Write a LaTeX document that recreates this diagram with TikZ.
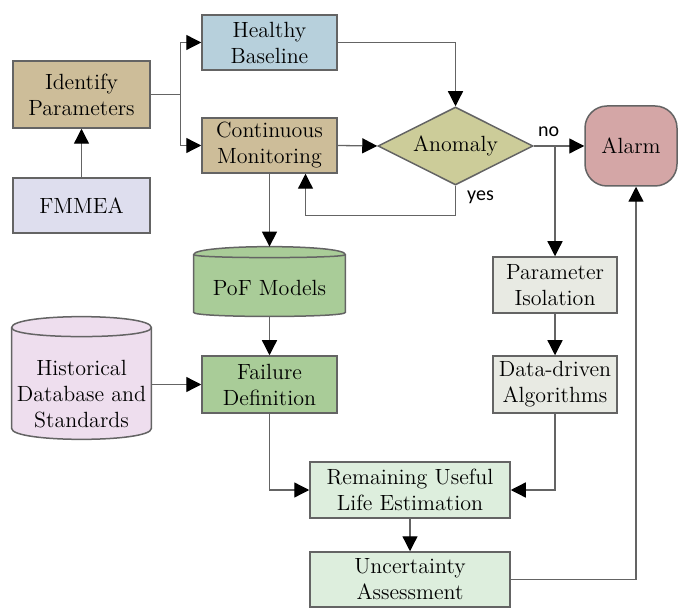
\documentclass[tikz,border=0pt]{standalone}
\usepackage{fontspec}
\newfontfamily\ynfont{Carlito}
\usetikzlibrary{shapes.geometric,arrows.meta,backgrounds}

\definecolor{lncolor}{RGB}{100,100,100}
\definecolor{tancol}{RGB}{205,189,153}
\definecolor{bluecol}{RGB}{183,208,220}
\definecolor{lavcol}{RGB}{222,222,238}
\definecolor{olivecol}{RGB}{204,204,153}
\definecolor{alarmcol}{RGB}{212,166,166}
\definecolor{greencol}{RGB}{169,204,152}
\definecolor{pinkcol}{RGB}{238,222,238}
\definecolor{greycol}{RGB}{232,234,227}
\definecolor{mintcol}{RGB}{221,238,221}

\begin{document}
\begin{tikzpicture}[
    x=0.5pt, y=-0.5pt,
    txt/.style={font=\rmfamily\fontsize{11}{13}\selectfont, align=center},
    box/.style={txt, draw=lncolor, line width=0.75pt, inner sep=0pt,
                minimum height=27.5pt},
    decision/.style={txt, diamond, draw=lncolor, line width=0.75pt,
                inner sep=0pt, aspect=2, minimum width=77.5pt, minimum height=39pt},
    dbframe/.style={inner sep=0pt},
    dbline/.style={draw=lncolor, line width=0.75pt},
    ln/.style={lncolor, line width=0.65pt},
    arr/.style={ln, -{Triangle[length=7.5pt, width=7.5pt, color=black]}},
    yn/.style={font=\ynfont\fontsize{10}{12}\selectfont, inner sep=0pt}
]
\useasboundingbox (0,0) rectangle (678,608);

% --- left column ---
\node[box, fill=tancol, minimum width=68.5pt, minimum height=33.5pt] (ident) at (81.5,94.5) {Identify\\Parameters};
\node[box, fill=lavcol, minimum width=68.5pt] (fmmea) at (81.5,205.5) {FMMEA};
\node[dbframe, minimum width=69.5pt, minimum height=50pt,
      label={[txt, yshift=-8pt]center:Historical\\Database and\\Standards}] (hist) at (81.5,378) {};

% --- middle column ---
\node[box, fill=bluecol, minimum width=67.5pt] (healthy) at (269.5,42.5) {Healthy\\Baseline};
\node[box, fill=tancol, minimum width=67.5pt] (cont) at (269.5,145.5) {Continuous\\Monitoring};
\node[dbframe, minimum width=75.5pt, minimum height=28.5pt,
      label={[txt, yshift=-2pt]center:PoF Models}] (pof) at (269.5,283.5) {};
\node[box, fill=greencol, minimum width=67.5pt, minimum height=28.5pt] (fail) at (269.5,384.5) {Failure\\Definition};
\node[box, fill=mintcol, minimum width=100pt, minimum height=28pt] (rul) at (410,490) {Remaining Useful\\Life Estimation};
\node[box, fill=mintcol, minimum width=100pt] (unc) at (410,579.5) {Uncertainty\\Assessment};

% --- right column ---
\node[decision, fill=olivecol] (anom) at (455.5,146) {Anomaly};
\node[box, fill=alarmcol, rounded corners=11pt, minimum width=46pt, minimum height=40pt] (alarm) at (631,146) {Alarm};
\node[box, fill=greycol, minimum width=62pt, minimum height=28pt] (param) at (555,285) {Parameter\\Isolation};
\node[box, fill=greycol, minimum width=62pt, minimum height=28.5pt] (data) at (555,384.5) {Data-driven\\Algorithms};

% --- database outlines, behind their labels ---
\begin{scope}[on background layer]
  \draw[dbline, fill=pinkcol] (hist.north west)
      .. controls ([yshift=7.3pt]hist.north west) and ([yshift=7.3pt]hist.north east) .. (hist.north east)
      -- (hist.south east)
      .. controls ([yshift=-7.3pt]hist.south east) and ([yshift=-7.3pt]hist.south west) .. (hist.south west)
      -- cycle;
  \draw[dbline] (hist.north west)
      .. controls ([yshift=-6pt]hist.north west) and ([yshift=-6pt]hist.north east) .. (hist.north east);
  \draw[dbline, fill=greencol] (pof.north west)
      .. controls ([yshift=5.3pt]pof.north west) and ([yshift=5.3pt]pof.north east) .. (pof.north east)
      -- (pof.south east)
      .. controls ([yshift=-2.7pt]pof.south east) and ([yshift=-2.7pt]pof.south west) .. (pof.south west)
      -- cycle;
  \draw[dbline] (pof.north west)
      .. controls ([yshift=-2pt]pof.north west) and ([yshift=-2pt]pof.north east) .. (pof.north east);
\end{scope}

% --- connectors ---
\draw[arr] (fmmea.north) -- (ident.south);
\draw[ln] (ident.east) -- ++(15pt,0) coordinate (fork);
\draw[arr] (fork) |- (healthy.west);
\draw[arr] (fork) |- (cont.west);
\draw[arr] (healthy.east) -| (anom.north);
\draw[arr] (cont.east) -- (anom.west);
\draw[arr] (anom.south) -- ++(0,-15pt) -| ([xshift=18pt]cont.south);
\node[yn] (yes) at ([xshift=12.5pt,yshift=-6pt]anom.south) {yes};
\draw[arr] (anom.east) -- (alarm.west);
\node[yn] (no) at ([xshift=7.5pt,yshift=7pt]anom.east) {no};
\draw[arr] (anom.east -| param.north) -- (param.north);
\draw[arr] (param.south) -- (data.north);
\draw[arr] (cont.south) -- ([yshift=4pt]pof.north);
\draw[arr] ([yshift=-2pt]pof.south) -- (fail.north);
\draw[arr] (hist.east |- fail.west) -- (fail.west);
\draw[arr] (fail.south) |- (rul.west);
\draw[arr] (data.south) |- (rul.east);
\draw[arr] (rul.south) -- (unc.north);
\draw[arr] (unc.east) -| ([xshift=2.5pt]alarm.south);

\end{tikzpicture}
\end{document}
